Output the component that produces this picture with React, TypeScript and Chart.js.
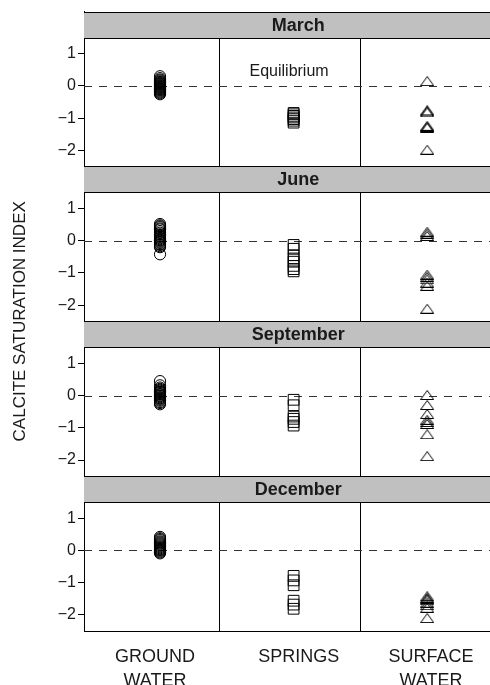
import React, { useEffect, useRef } from 'react';
import { Chart, registerables } from 'chart.js';

Chart.register(...registerables);

// ---------- data ----------
const months = ['March', 'June', 'September', 'December'];
const categoryLabels = [['GROUND', 'WATER'], ['SPRINGS'], ['SURFACE', 'WATER']];
const categoryX = [1, 2, 3];
const yTickValues = [-2, -1, 0, 1];
const yAxisTitle = 'CALCITE SATURATION INDEX';
const equilibriumLabel = 'Equilibrium';

const marchGround = [0.3, 0.24, 0.2, 0.17, 0.14, 0.12, 0.1, 0.08, 0.06, 0.04, 0.02, 0.0, -0.02, -0.04, -0.06, -0.08, -0.1, -0.12, -0.14, -0.17, -0.2, -0.23, -0.26];
const marchSprings = [-0.84, -0.88, -0.93, -0.98, -1.03, -1.08, -1.14];
const marchSurface = [0.15, -0.76, -0.79, -0.82, -1.24, -1.27, -1.3, -1.98];

const juneGround = [0.52, 0.48, 0.45, 0.42, 0.38, 0.35, 0.3, 0.25, 0.2, 0.15, 0.12, 0.08, 0.05, 0.02, 0.0, -0.03, -0.06, -0.1, -0.13, -0.17, -0.2, -0.42];
const juneSprings = [-0.13, -0.25, -0.45, -0.55, -0.65, -0.78, -0.88, -0.95];
const juneSurface = [0.28, 0.22, 0.15, -1.05, -1.12, -1.2, -1.3, -1.4, -2.11];

const septemberGround = [0.45, 0.32, 0.25, 0.21, 0.18, 0.15, 0.12, 0.1, 0.08, 0.05, 0.03, 0.0, -0.02, -0.05, -0.08, -0.1, -0.13, -0.16, -0.2, -0.23, -0.27];
const septemberSprings = [-0.13, -0.3, -0.65, -0.72, -0.82, -0.93];
const septemberSurface = [0.02, -0.29, -0.57, -0.75, -0.82, -0.88, -1.2, -1.88];

const decemberGround = [0.42, 0.38, 0.35, 0.32, 0.28, 0.25, 0.22, 0.19, 0.16, 0.13, 0.1, 0.07, 0.04, 0.02, 0.0, -0.03, -0.06, -0.09];
const decemberSprings = [-0.79, -0.93, -1.08, -1.56, -1.68, -1.81];
const decemberSurface = [-1.42, -1.47, -1.5, -1.55, -1.62, -1.7, -1.78, -2.1];

const seriesByMonth = [
  [marchGround, marchSprings, marchSurface],
  [juneGround, juneSprings, juneSurface],
  [septemberGround, septemberSprings, septemberSurface],
  [decemberGround, decemberSprings, decemberSurface],
];

// ---------- layout / style constants ----------
const W = 490;
const H = 685;
const Y_MIN = -2.5;
const Y_PLOT_MAX = 1.5;
const Y_HEADER_MAX = 2.306;
const X_MIN = 0.431;
const X_MAX = 3.47;
const SEPARATORS = [1.442, 2.498];
const LABEL_X = [0.962, 2.039, 3.028];
const HEADER_TEXT_X = 2.034;
const EQ_POS = { x: 1.966, y: 0.45 };
const FONT = '"Liberation Sans", Arial, Helvetica, sans-serif';
const TEXT = '#1a1a1a';

function makeTriangle(): HTMLCanvasElement {
  const c = document.createElement('canvas');
  c.width = 14;
  c.height = 10;
  const g = c.getContext('2d')!;
  g.strokeStyle = '#000';
  g.lineWidth = 1;
  g.beginPath();
  g.moveTo(7, 0.5);
  g.lineTo(13.5, 9.5);
  g.lineTo(0.5, 9.5);
  g.closePath();
  g.stroke();
  return c;
}

const minusFmt = (v: number) => (v < 0 ? '\u2212' + Math.abs(v) : String(v));
const axisId = (k: number) => 'y' + k;

const panelPlugin = {
  id: 'panels',
  beforeDatasetsDraw(chart: any) {
    const ctx = chart.ctx;
    const area = chart.chartArea;
    const xs = chart.scales.x;
    ctx.save();
    months.forEach((m, k) => {
      const ys = chart.scales[axisId(k)];
      const top = Math.round(ys.getPixelForValue(Y_HEADER_MAX));
      const hb = Math.round(ys.getPixelForValue(Y_PLOT_MAX));
      const bot = Math.round(ys.getPixelForValue(Y_MIN));
      ctx.fillStyle = '#c0c0c0';
      ctx.fillRect(area.left, top, area.right - area.left, hb - top);
      ctx.strokeStyle = '#000';
      ctx.lineWidth = 1;
      ctx.setLineDash([]);
      ctx.beginPath();
      ctx.moveTo(area.left, top + 0.5);
      ctx.lineTo(area.right, top + 0.5);
      ctx.moveTo(area.left, hb + 0.5);
      ctx.lineTo(area.right, hb + 0.5);
      ctx.moveTo(area.left, bot + 0.5);
      ctx.lineTo(area.right, bot + 0.5);
      ctx.stroke();
      ctx.fillStyle = TEXT;
      ctx.font = 'bold 18px ' + FONT;
      ctx.textAlign = 'center';
      ctx.textBaseline = 'middle';
      ctx.fillText(m, xs.getPixelForValue(HEADER_TEXT_X), (top + hb) / 2 + 1);
      ctx.beginPath();
      SEPARATORS.forEach((sx) => {
        const px = Math.round(xs.getPixelForValue(sx)) + 0.5;
        ctx.moveTo(px, hb);
        ctx.lineTo(px, bot);
      });
      ctx.stroke();
      const zy = Math.round(ys.getPixelForValue(0)) + 0.5;
      ctx.strokeStyle = '#333';
      ctx.setLineDash([8, 7]);
      ctx.beginPath();
      ctx.moveTo(area.left, zy);
      ctx.lineTo(area.right, zy);
      ctx.stroke();
      ctx.setLineDash([]);
      if (k === 0) {
        ctx.fillStyle = TEXT;
        ctx.font = '16px ' + FONT;
        ctx.fillText(equilibriumLabel, xs.getPixelForValue(EQ_POS.x), ys.getPixelForValue(EQ_POS.y));
      }
    });
    ctx.fillStyle = TEXT;
    ctx.font = '17px ' + FONT;
    ctx.translate(20, (area.top + area.bottom) / 2);
    ctx.rotate(-Math.PI / 2);
    ctx.textAlign = 'center';
    ctx.textBaseline = 'middle';
    ctx.fillText(yAxisTitle, 0, 0);
    ctx.restore();
  },
};

export default function App() {
  const ref = useRef<HTMLCanvasElement | null>(null);
  useEffect(() => {
    if (!ref.current) return;
    const tri = makeTriangle();
    const styles: any[] = ['circle', 'rect', tri];
    const radii = [5.6, 7.6, 6];
    const datasets: any[] = [];
    seriesByMonth.forEach((group, k) => {
      group.forEach((vals, c) => {
        datasets.push({
          type: 'scatter',
          label: months[k] + ' ' + categoryLabels[c].join(' '),
          yAxisID: axisId(k),
          data: vals.map((v) => ({ x: categoryX[c], y: v })),
          pointStyle: styles[c],
          pointRadius: radii[c],
          pointBorderWidth: 1,
          borderColor: '#000',
          backgroundColor: 'rgba(0,0,0,0)',
          pointBackgroundColor: 'rgba(0,0,0,0)',
          pointBorderColor: '#000',
          showLine: false,
        });
      });
    });
    // stacked axes: the first one defined is placed at the bottom, so insert December first
    const yScales: any = {};
    for (let k = months.length - 1; k >= 0; k--) {
      yScales[axisId(k)] = {
        type: 'linear',
        position: 'left',
        stack: 'panels',
        stackWeight: 1,
        min: Y_MIN,
        max: Y_HEADER_MAX,
        afterBuildTicks: (s: any) => {
          s.ticks = yTickValues.map((v) => ({ value: v }));
        },
        afterFit: (s: any) => {
          s.width = 84;
        },
        grid: {
          display: true,
          drawOnChartArea: false,
          drawTicks: true,
          tickLength: 6,
          color: '#000',
        },
        border: { display: true, color: '#000', width: 1 },
        ticks: {
          padding: 2,
          color: TEXT,
          font: { family: FONT, size: 16 },
          callback: (v: any) => minusFmt(Number(v)),
        },
      };
    }
    const chart = new Chart(ref.current, {
      type: 'scatter',
      data: { datasets },
      options: {
        responsive: false,
        animation: false,
        events: [],
        devicePixelRatio: 1,
        layout: { autoPadding: false, padding: { top: 11, left: 0, right: 0, bottom: 0 } },
        plugins: { legend: { display: false }, tooltip: { enabled: false } },
        scales: {
          x: {
            type: 'linear',
            position: 'bottom',
            min: X_MIN,
            max: X_MAX,
            afterBuildTicks: (s: any) => {
              s.ticks = LABEL_X.map((v) => ({ value: v }));
            },
            afterFit: (s: any) => {
              s.height = 54;
              s.paddingLeft = 0;
              s.paddingRight = 0;
            },
            grid: { display: false, drawTicks: false },
            border: { display: true, color: '#000', width: 1 },
            ticks: {
              padding: 14,
              color: TEXT,
              maxRotation: 0,
              autoSkip: false,
              font: { family: FONT, size: 18, lineHeight: 1.333 },
              callback: (v: any, i: number) => categoryLabels[i] ?? '',
            },
          },
          ...yScales,
        },
      } as any,
      plugins: [panelPlugin],
    });
    return () => chart.destroy();
  }, []);
  return (
    <div style={{ position: 'fixed', left: 0, top: 0, width: W, height: H, background: '#fff' }}>
      <canvas ref={ref} width={W} height={H} style={{ width: W, height: H, display: 'block' }} />
    </div>
  );
}
